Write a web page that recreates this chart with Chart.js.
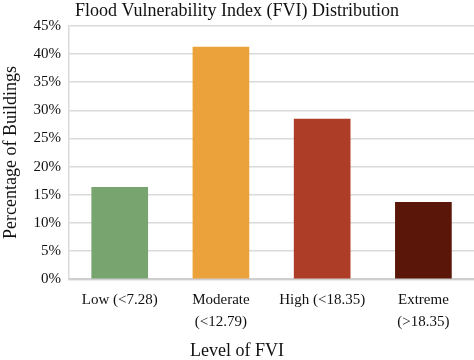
<!DOCTYPE html>
<html>
<head>
<meta charset="utf-8">
<script src="https://cdn.jsdelivr.net/npm/chart.js@4"></script>
<style>
  html, body { margin: 0; padding: 0; background: #fff; }
  #wrap { width: 474px; height: 360px; }
</style>
</head>
<body>
<div id="wrap"><canvas id="fviChart"></canvas></div>
<script>
// ── Data ────────────────────────────────────────────────────────
const categories = [['Low (<7.28)'], ['Moderate', '(<12.79)'], ['High (<18.35)'], ['Extreme', '(>18.35)']];
const percentages = [16.4, 41.3, 28.5, 13.7];
const barColors = ['#78a46f', '#eba23a', '#ad3d26', '#5a1608'];

const serif = '"Liberation Serif", "Times New Roman", serif';

new Chart(document.getElementById('fviChart'), {
  type: 'bar',
  data: {
    labels: categories,
    datasets: [{
      data: percentages,
      backgroundColor: barColors,
      borderWidth: 0,
      categoryPercentage: 1.0,
      barPercentage: 0.56,
    }]
  },
  options: {
    responsive: true,
    maintainAspectRatio: false,
    animation: false,
    layout: { padding: { top: 0, right: 0, left: 0, bottom: 0 } },
    plugins: {
      legend: { display: false },
      tooltip: { enabled: false },
      title: {
        display: true,
        text: 'Flood Vulnerability Index (FVI) Distribution',
        color: '#111',
        font: { family: serif, size: 18, weight: 'normal', lineHeight: 1.1 },
        padding: { top: 1, bottom: 5 }
      },
      // x-axis caption centred on the whole canvas, as in the reference
      subtitle: {
        display: true,
        position: 'bottom',
        text: 'Level of FVI',
        color: '#111',
        font: { family: serif, size: 18, weight: 'normal', lineHeight: 0.9 },
        padding: { top: 0, bottom: 1 }
      }
    },
    scales: {
      x: {
        grid: { display: false, drawTicks: false },
        border: { color: '#cfcfcf', width: 2 },
        ticks: {
          color: '#111',
          font: { family: serif, size: 15, lineHeight: 1.45 },
          padding: 10,
          maxRotation: 0,
          autoSkip: false
        }
      },
      y: {
        min: 0,
        max: 45,
        grid: { color: '#dadada', lineWidth: 1.5, drawTicks: false },
        border: { color: '#dadada', width: 1.5 },
        ticks: {
          stepSize: 5,
          color: '#111',
          font: { family: serif, size: 15 },
          padding: 8,
          callback: v => v + '%'
        },
        title: {
          display: true,
          text: 'Percentage of Buildings',
          color: '#111',
          font: { family: serif, size: 18 },
          padding: { top: 0, bottom: 4 }
        }
      }
    }
  }
});
</script>
</body>
</html>
